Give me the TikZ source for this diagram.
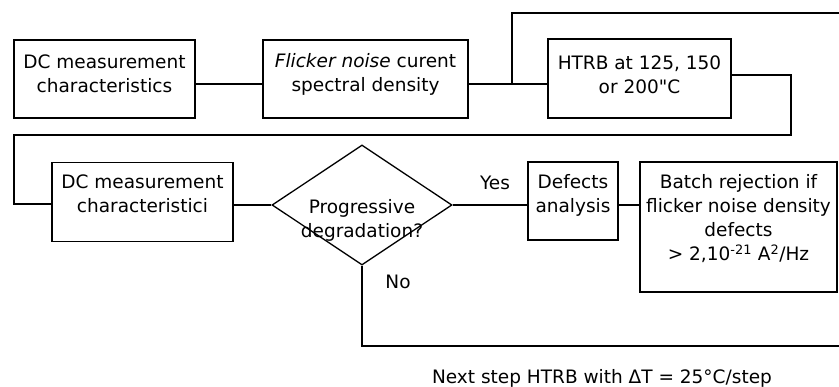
\documentclass[tikz,border=0pt]{standalone}
\usepackage{fontspec}
\setmainfont{DejaVu Sans}
\usetikzlibrary{shapes.geometric,calc}
\begin{document}
\begin{tikzpicture}[x=1pt,y=-1pt,
  line width=1.3pt,
  every node/.style={font=\fontsize{18.5}{24}\selectfont},
  stepbox/.style={draw,rectangle,inner sep=0pt},
  txt/.style={align=center,inner sep=0pt},
  decision/.style={draw,diamond,inner sep=0pt,shape aspect=1.5,
    minimum width=180pt,minimum height=120pt}]
\useasboundingbox (0,0) rectangle (839,387);

% first row
\node[stepbox,minimum width=181pt,minimum height=78pt] (dc1) at (104.5,79) {};
\node[txt] (dc1t) at (104.5,74) {DC measurement\\characteristics};
\node[stepbox,minimum width=205pt,minimum height=78pt] (fl) at (365.5,79) {};
\node[txt] (flt) at (365.5,74) {\textit{Flicker noise} curent\\spectral density};
\node[stepbox,minimum width=183pt,minimum height=79pt] (htrb) at (639.5,78.5) {};
\node[txt] (htrbt) at (639.5,75) {HTRB at 125, 150\\or 200\textquotedbl C};

% second row
\node[stepbox,minimum width=181pt,minimum height=79pt] (dc2) at (142.5,202) {};
\node[txt] (dc2t) at (142.5,194) {DC measurement\\characteristici};
\node[decision] (dia) at (362,205) {};
\node[txt] (diat) at (362,220) {Progressive\\degradation?};
\node[stepbox,minimum width=90pt,minimum height=78pt] (defa) at (573,201) {};
\node[txt] (defat) at (573,195) {Defects\\analysis};
\node[stepbox,minimum width=197pt,minimum height=130pt] (batch) at (738.5,227) {};
\node[txt] (batcht) at (738.5,219) {Batch rejection if\\flicker noise density\\defects\\> 2,10\textsuperscript{-21} A\textsuperscript{2}/Hz};

% labels
\node[txt] (yes) at (495,183) {Yes};
\node[txt] (no) at (398,282) {No};
\node[txt] (next) at (602,378) {Next step HTRB with ΔT = 25°C/step};

% connectors of the first row
\draw ([yshift=-5pt]dc1.east) -- ([yshift=-5pt]dc1.east -| fl.west);
\draw ([yshift=-5pt]fl.east) -- ([yshift=-5pt]fl.east -| htrb.west);
\coordinate (j1) at (512,84);
\coordinate (topend) at (839,13);
\draw (j1) |- (topend);

% return path to the second row
\coordinate (c1) at (791,135);
\coordinate (c2) at (14,135);
\coordinate (c3) at (14,204);
\draw ([yshift=3.5pt]htrb.east) -| (c1) -- (c2) -- (c3) -- (c3 -| dc2.west);

% connectors of the second row
\draw (dc2.east |- dia.west) -- (dia.west);
\draw (dia.east) -- (dia.east -| defa.west);
\draw (defa.east |- dia.east) -- (dia.east -| batch.west);
\coordinate (noend) at (839,346);
\draw (dia.south) |- (noend);
\end{tikzpicture}
\end{document}
